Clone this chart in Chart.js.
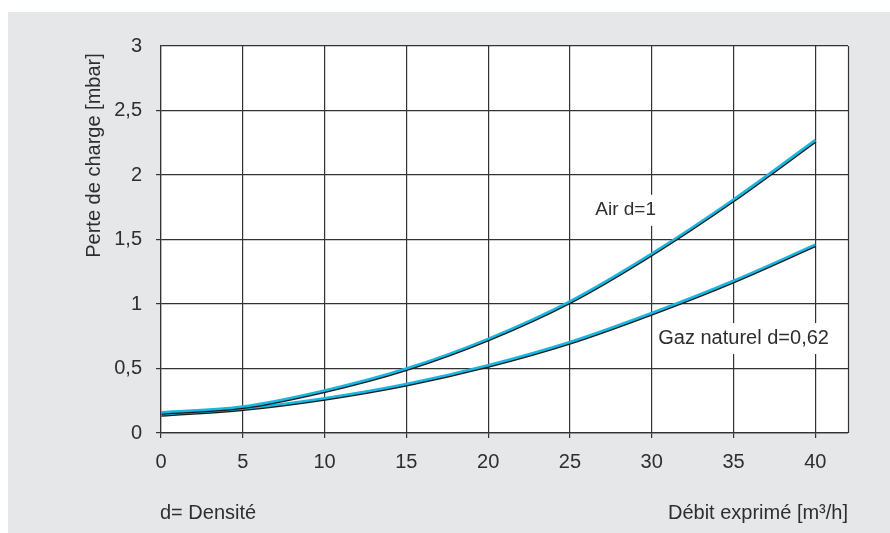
<!DOCTYPE html>
<html><head><meta charset="utf-8">
<script src="https://cdn.jsdelivr.net/npm/chart.js@4.4.1/dist/chart.umd.min.js"></script>
<style>html,body{margin:0;padding:0;background:#fff;overflow:hidden}</style>
</head><body>
<canvas id="c" width="890" height="533"></canvas>
<script>
// ---- data ----
const debit = [0, 5, 10, 15, 20, 25, 30, 35, 40];
const airValues = [0.16, 0.205, 0.33, 0.50, 0.73, 1.02, 1.39, 1.81, 2.27];
const gazValues = [0.145, 0.19, 0.27, 0.38, 0.525, 0.705, 0.93, 1.18, 1.46];
const seriesNames = ['Air d=1', 'Gaz naturel d=0,62'];
const xTickValues = [0, 5, 10, 15, 20, 25, 30, 35, 40];
const xTickLabels = ['0', '5', '10', '15', '20', '25', '30', '35', '40'];
const yTickValues = [0, 0.5, 1, 1.5, 2, 2.5, 3];
const yTickLabels = ['0', '0,5', '1', '1,5', '2', '2,5', '3'];
const xTitle = 'Débit exprimé [m³/h]';
const yTitle = 'Perte de charge [mbar]';
const noteText = 'd= Densité';

const FONT = '"Liberation Sans", Arial, sans-serif';
const TXT = '#2e2e2e';
const GRID = '#333333';
const CYAN = '#1ab6e2';

const toPoints = (xs, ys) => xs.map((x, i) => ({x, y: ys[i]}));

const decor = {
  id: 'decor',
  beforeDraw(chart) {
    const {ctx, chartArea: a} = chart;
    ctx.save();
    ctx.fillStyle = '#ffffff';
    ctx.fillRect(0, 0, chart.width, chart.height);
    ctx.fillStyle = '#e6e7e9';
    ctx.fillRect(8, 12, chart.width - 8, chart.height - 12);
    ctx.fillStyle = '#ffffff';
    ctx.fillRect(a.left, a.top, a.right - a.left, a.bottom - a.top);
    ctx.restore();
  },
  beforeDatasetsDraw(chart) {
    const {ctx, chartArea: a} = chart;
    ctx.save();
    ctx.strokeStyle = GRID;
    ctx.lineWidth = 1.2;
    ctx.beginPath();
    ctx.moveTo(Math.round(a.right) + 0.5, a.top);
    ctx.lineTo(Math.round(a.right) + 0.5, a.bottom);
    ctx.stroke();
    // series labels with white boxes
    const xs = chart.scales.x, ys = chart.scales.y;
    const labs = chart.options.plugins.decor.labels;
    ctx.textBaseline = 'middle';
    ctx.textAlign = 'left';
    labs.forEach(l => {
      ctx.font = l.size + 'px ' + FONT;
      const px = xs.getPixelForValue(l.x), py = ys.getPixelForValue(l.y);
      const w = ctx.measureText(l.text).width;
      ctx.fillStyle = '#ffffff';
      ctx.fillRect(px - 4, py - 15, w + 8, 31);
      ctx.fillStyle = TXT;
      ctx.fillText(l.text, px, py);
    });
    ctx.restore();
  },
  afterDraw(chart) {
    const {ctx, chartArea: a} = chart;
    ctx.save();
    ctx.fillStyle = TXT;
    ctx.font = '20px ' + FONT;
    // y title
    ctx.save();
    ctx.translate(100, (a.top + a.bottom) / 2 - 84);
    ctx.rotate(-Math.PI / 2);
    ctx.textAlign = 'center';
    ctx.textBaseline = 'alphabetic';
    ctx.fillText(yTitle, 0, 0);
    ctx.restore();
    // note
    ctx.textAlign = 'left';
    ctx.textBaseline = 'alphabetic';
    ctx.fillText(noteText, a.left - 1, 519);
    ctx.restore();
  }
};

const shadow = {
  id: 'lineShadow',
  beforeDatasetDraw(chart) {
    const ctx = chart.ctx;
    ctx.save();
    ctx.shadowColor = '#1a1a1a';
    ctx.shadowOffsetX = 0.4;
    ctx.shadowOffsetY = 1.2;
    ctx.shadowBlur = 0;
  },
  afterDatasetDraw(chart) {
    chart.ctx.restore();
  }
};

const gridCommon = {
  color: GRID,
  lineWidth: 1.2,
  tickLength: 5,
  drawTicks: true
};

new Chart(document.getElementById('c'), {
  type: 'line',
  data: {
    datasets: [
      {label: seriesNames[0], data: toPoints(debit, airValues), borderColor: CYAN, borderWidth: 2.6,
       pointRadius: 0, cubicInterpolationMode: 'monotone', fill: false},
      {label: seriesNames[1], data: toPoints(debit, gazValues), borderColor: CYAN, borderWidth: 2.6,
       pointRadius: 0, cubicInterpolationMode: 'monotone', fill: false}
    ]
  },
  options: {
    responsive: false,
    animation: false,
    devicePixelRatio: 1,
    layout: {padding: {top: 46, right: 42, left: 0, bottom: 0}},
    plugins: {
      legend: {display: false},
      tooltip: {enabled: false},
      decor: {
        labels: [
          {text: seriesNames[0], x: 26.55, y: 1.73, size: 19},
          {text: seriesNames[1], x: 30.4, y: 0.736, size: 20}
        ]
      }
    },
    scales: {
      x: {
        type: 'linear', min: 0, max: 42,
        afterBuildTicks: s => { s.ticks = xTickValues.map(v => ({value: v})); },
        afterFit: s => { s.height = 100; },
        grid: gridCommon,
        border: {color: GRID, width: 1.2},
        ticks: {
          autoSkip: false, maxRotation: 0, padding: 12, color: TXT,
          font: {family: FONT, size: 20},
          callback: (v, i) => xTickLabels[i]
        },
        title: {display: true, text: xTitle, align: 'end', color: TXT,
                font: {family: FONT, size: 20}, padding: {top: 0, bottom: 8}}
      },
      y: {
        type: 'linear', min: 0, max: 3,
        afterBuildTicks: s => { s.ticks = yTickValues.map(v => ({value: v})); },
        afterFit: s => { s.width = 161; },
        grid: Object.assign({}, gridCommon, {
          tickColor: c => (c.tick && c.tick.value === 3) ? 'rgba(0,0,0,0)' : GRID
        }),
        border: {color: GRID, width: 1.2},
        ticks: {
          padding: 14, color: TXT,
          font: {family: FONT, size: 20},
          callback: (v, i) => yTickLabels[i]
        }
      }
    }
  },
  plugins: [decor, shadow]
});
</script>
</body></html>
